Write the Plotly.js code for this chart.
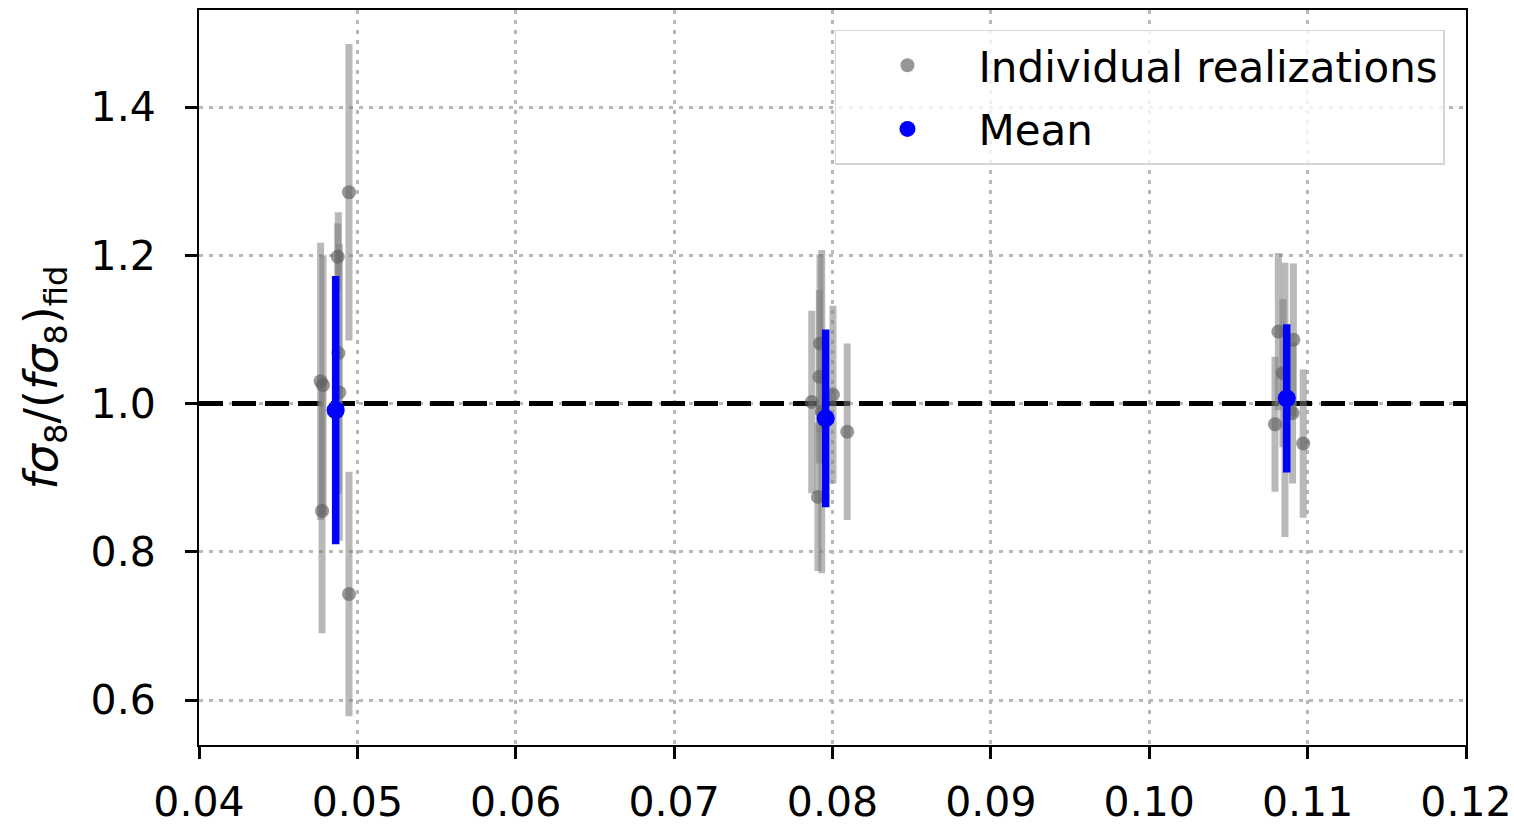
<!DOCTYPE html>
<html>
<head>
<meta charset="utf-8">
<script src="https://cdn.plot.ly/plotly-3.0.1.min.js"></script>
<style>
  html, body { margin: 0; padding: 0; background: #ffffff; }
  #chart { width: 1514px; height: 829px; }
</style>
</head>
<body>
<div id="chart"></div>
<script>
// ---- data ----
const indivX = [0.04768, 0.04777, 0.04783, 0.04880, 0.04876, 0.04886, 0.04947, 0.04947,
                0.07869, 0.07932, 0.07917, 0.07921, 0.07908, 0.08003, 0.08093,
                0.10794, 0.10815, 0.10857, 0.10844, 0.10910, 0.10905, 0.10972];
const indivY = [1.030, 0.855, 1.025, 1.068, 1.198, 1.015, 1.285, 0.743,
                1.002, 0.989, 1.036, 1.081, 0.874, 1.012, 0.962,
                0.972, 1.097, 1.005, 1.041, 1.086, 0.987, 0.946];
const indivErr = [0.187, 0.165, 0.175, 0.190, 0.045, 0.200, 0.200, 0.165,
                  0.123, 0.218, 0.117, 0.120, 0.100, 0.120, 0.119,
                  0.091, 0.106, 0.185, 0.100, 0.103, 0.095, 0.100];

const meanX = [0.04863, 0.07957, 0.10868];
const meanY = [0.991, 0.980, 1.007];
const meanErr = [0.181, 0.120, 0.100];

const fiducial = 1.0;

const xTickVals = [0.04, 0.05, 0.06, 0.07, 0.08, 0.09, 0.10, 0.11, 0.12];
const xTickText = ["0.04", "0.05", "0.06", "0.07", "0.08", "0.09", "0.10", "0.11", "0.12"];
const yTickVals = [0.6, 0.8, 1.0, 1.2, 1.4];
const yTickText = ["0.6", "0.8", "1.0", "1.2", "1.4"];

const seriesNames = ["Individual realizations", "Mean"];

// ---- chart ----
const FONT = "DejaVu Sans, Liberation Sans, sans-serif";
const FS = 41;
const xMin = xTickVals[0], xMax = xTickVals[xTickVals.length - 1];

const traces = [
  {
    type: "scatter", mode: "lines", name: "fiducial",
    x: [xMin, xMax], y: [fiducial, fiducial],
    line: { color: "#000000", width: 5, dash: "24px,9px" },
    showlegend: false, hoverinfo: "skip", cliponaxis: true
  },
  {
    type: "scatter", mode: "markers", name: seriesNames[0],
    x: indivX, y: indivY,
    error_y: { type: "data", array: indivErr, visible: true,
               color: "rgba(128,128,128,0.55)", thickness: 7, width: 0 },
    marker: { size: 14, color: "rgba(95,95,95,0.65)", line: { width: 0 } },
    legendgroup: "a"
  },
  {
    type: "scatter", mode: "markers", name: seriesNames[1],
    x: meanX, y: meanY,
    error_y: { type: "data", array: meanErr, visible: true,
               color: "#0000ff", thickness: 7.5, width: 0 },
    marker: { size: 18, color: "#0000ff", line: { width: 0 } },
    legendgroup: "b"
  }
];

const layout = {
  width: 1514, height: 829,
  margin: { l: 199, r: 48, t: 10, b: 84 },
  paper_bgcolor: "#ffffff", plot_bgcolor: "#ffffff",
  font: { family: FONT, size: FS, color: "#000000" },
  showlegend: true,
  legend: {
    x: 0.9834, xanchor: "right", y: 0.9728, yanchor: "top",
    bgcolor: "rgba(255,255,255,0.8)", bordercolor: "#d5d5d5", borderwidth: 1.5,
    font: { family: FONT, size: 42, color: "#000000" },
    itemwidth: 132, tracegroupgap: 6
  },
  xaxis: {
    range: [0.04, 0.12],
    tickmode: "array", tickvals: xTickVals, ticktext: xTickText,
    ticks: "outside", ticklen: 12, tickwidth: 2.5, tickcolor: "#000000",
    ticklabelstandoff: 8,
    showline: true, linecolor: "#000000", linewidth: 2, mirror: true,
    showgrid: true, gridcolor: "#b8b8b8", gridwidth: 2.5, griddash: "4px,6px",
    zeroline: false,
    tickfont: { family: FONT, size: FS, color: "#000000" }
  },
  yaxis: {
    range: [0.5393, 1.5309],
    tickmode: "array", tickvals: yTickVals, ticktext: yTickText,
    ticks: "outside", ticklen: 12, tickwidth: 2.5, tickcolor: "#000000",
    ticklabelstandoff: 21,
    showline: true, linecolor: "#000000", linewidth: 2, mirror: true,
    showgrid: true, gridcolor: "#b8b8b8", gridwidth: 2.5, griddash: "4px,6px",
    zeroline: false,
    tickfont: { family: FONT, size: FS, color: "#000000" },
    title: {
      text: "<i>fσ</i><sub>8</sub>/(<i>fσ</i><sub>8</sub>)<sub>fid</sub>",
      font: { family: FONT, size: 46, color: "#000000" },
      standoff: 18
    }
  }
};

Plotly.newPlot("chart", traces, layout, { displayModeBar: false, responsive: false });
</script>
</body>
</html>
